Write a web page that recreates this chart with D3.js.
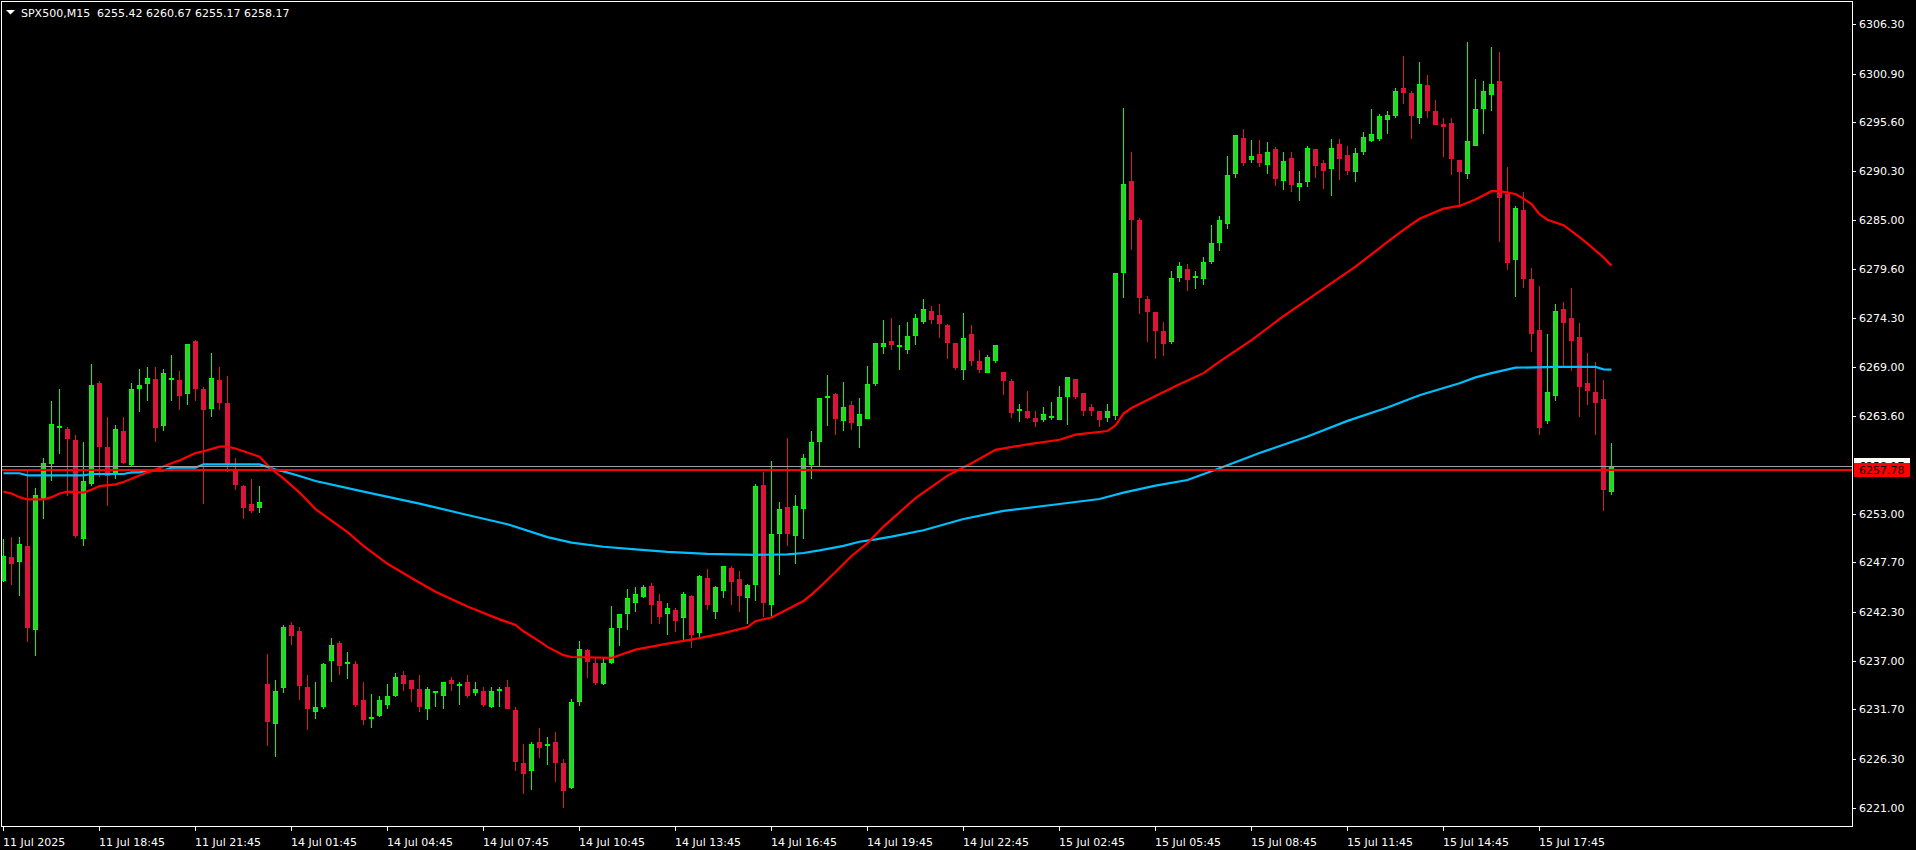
<!DOCTYPE html>
<html><head><meta charset="utf-8">
<script src="https://cdn.jsdelivr.net/npm/d3@7"></script>
<style>html,body{margin:0;padding:0;background:#000;overflow:hidden}text{font-family:"DejaVu Sans",sans-serif;font-size:11px}</style>
</head><body>
<svg id="chart" width="1916" height="850"></svg>
<script>
// ---------- data ----------
const titleText = "SPX500,M15  6255.42 6260.67 6255.17 6258.17";
const opens = [
6245.8,6248.3,6247.8,6249.5,6240.4,6254.6,6258.5,6262.4,6262.2,6261.0,
6250.4,6256.3,6267.2,6260.3,6257.5,6262.0,6258.4,6266.7,6267.2,6267.7,
6262.7,6267.7,6267.6,6266.1,6271.8,6266.6,6264.5,6267.6,6265.1,6257.8,
6256.0,6254.1,6253.7,6234.5,6230.2,6234.1,6240.9,6240.2,6234.1,6231.5,
6232.1,6237.1,6238.9,6236.8,6236.6,6232.7,6230.8,6231.1,6232.3,6233.3,
6235.4,6234.9,6233.9,6231.9,6233.6,6233.3,6234.9,6234.4,6234.7,6233.6,
6233.7,6232.1,6233.85,6234.1,6231.6,6225.9,6225.1,6228.2,6227.85,6228.2,
6225.9,6223.2,6232.6,6238.2,6236.8,6234.6,6236.9,6240.7,6242.2,6243.4,
6244.0,6245.1,6243.5,6242.2,6242.5,6241.8,6244.0,6240.1,6246.0,6242.4,
6244.7,6247.1,6245.9,6243.9,6245.4,6256.1,6243.2,6250.9,6253.7,6250.7,
6253.6,6258.4,6260.9,6265.7,6266.0,6263.2,6264.8,6262.7,6263.4,6267.2,
6271.25,6271.8,6271.3,6270.9,6272.45,6274.0,6275.1,6274.6,6273.5,6271.6,
6268.75,6272.6,6269.6,6268.4,6269.7,6268.4,6267.4,6264.3,6264.2,6263.4,
6263.3,6263.55,6263.3,6265.8,6267.7,6266.1,6264.6,6264.2,6263.5,6263.7,
6279.3,6289.2,6285.0,6276.4,6275.0,6272.9,6271.8,6278.8,6279.6,6278.8,
6278.6,6280.5,6282.6,6284.6,6290.1,6293.9,6291.6,6292.15,6291.1,6292.7,
6289.3,6291.7,6288.7,6289.2,6292.7,6291.2,6290.6,6293.2,6292.0,6290.3,
6292.5,6293.7,6293.9,6296.0,6296.4,6299.3,6298.8,6296.2,6299.7,6296.8,
6295.4,6295.5,6291.5,6290.1,6293.1,6297.2,6298.7,6300.1,6287.8,6280.7,
6286.05,6278.5,6273.0,6263.2,6265.9,6275.3,6274.3,6272.2,6267.2,6266.25,
6265.5,6255.42];
const highs = [
6250.3,6250.5,6250.5,6257.8,6255.8,6259.1,6265.3,6266.6,6262.4,6261.6,
6260.8,6269.3,6267.4,6263.5,6262.7,6263.5,6267.2,6268.8,6269.0,6269.0,
6268.8,6270.3,6268.5,6271.5,6271.9,6266.8,6270.5,6269.0,6268.0,6259.1,
6256.1,6256.8,6256.0,6237.7,6234.9,6240.9,6241.2,6240.7,6235.4,6234.7,
6236.7,6239.5,6239.1,6238.0,6237.0,6234.7,6233.4,6233.2,6234.5,6235.7,
6235.9,6234.9,6235.4,6234.1,6233.7,6234.7,6235.2,6234.7,6235.4,6234.7,
6234.1,6234.1,6234.1,6234.9,6232.0,6227.9,6228.2,6229.7,6228.7,6229.2,
6226.3,6232.8,6239.1,6238.3,6237.4,6237.4,6243.0,6242.1,6244.8,6245.0,
6245.2,6245.5,6244.3,6243.3,6242.7,6244.5,6244.1,6246.3,6247.0,6245.1,
6247.35,6247.3,6246.8,6245.3,6256.2,6257.5,6258.7,6254.3,6261.2,6255.0,
6259.5,6262.0,6265.6,6268.1,6266.1,6267.3,6265.3,6265.6,6269.1,6271.6,
6274.1,6274.3,6273.5,6273.9,6274.7,6276.4,6275.6,6275.8,6273.6,6271.6,
6274.8,6273.5,6270.8,6270.3,6271.4,6268.45,6267.7,6264.9,6266.35,6264.2,
6264.6,6265.2,6266.9,6267.9,6267.7,6266.15,6264.9,6264.2,6264.9,6279.25,
6297.2,6292.4,6285.2,6276.7,6275.0,6273.9,6279.4,6280.4,6280.2,6279.4,
6280.9,6284.4,6285.4,6291.9,6294.25,6294.9,6293.7,6293.7,6293.45,6292.9,
6292.4,6292.4,6290.3,6293.0,6292.7,6291.5,6293.8,6293.8,6293.0,6292.8,
6294.5,6297.05,6296.5,6296.8,6299.3,6302.8,6299.0,6302.2,6300.75,6298.0,
6296.1,6296.1,6291.5,6304.3,6300.3,6300.1,6303.8,6303.25,6290.7,6286.5,
6288.0,6279.7,6277.8,6272.6,6275.8,6276.0,6277.6,6273.8,6270.5,6269.5,
6267.55,6260.67];
const lows = [
6245.7,6245.4,6244.2,6239.1,6237.6,6252.5,6256.7,6259.6,6255.0,6250.5,
6249.6,6256.1,6257.1,6254.0,6256.9,6258.5,6258.3,6264.2,6265.4,6260.9,
6262.1,6265.4,6264.4,6264.9,6265.4,6254.2,6263.6,6264.4,6257.7,6255.7,
6252.5,6253.2,6253.2,6227.8,6226.6,6233.6,6238.8,6232.8,6229.6,6230.8,
6231.9,6234.8,6235.6,6235.1,6232.1,6230.1,6229.8,6231.0,6231.9,6233.2,
6233.8,6232.6,6231.5,6230.6,6232.1,6231.9,6233.8,6232.3,6233.1,6233.3,
6232.1,6232.0,6232.1,6231.8,6225.1,6222.6,6223.0,6226.5,6225.8,6223.9,
6221.1,6223.1,6232.2,6235.2,6234.5,6234.5,6236.8,6238.7,6240.5,6242.4,
6243.9,6241.1,6241.1,6239.9,6240.2,6239.4,6238.5,6239.6,6242.6,6241.7,
6243.9,6243.2,6242.4,6241.1,6243.6,6241.9,6241.9,6246.4,6249.6,6247.6,
6250.4,6256.9,6258.2,6262.7,6261.7,6262.1,6262.2,6260.3,6263.4,6267.0,
6270.5,6270.9,6268.75,6270.5,6271.5,6273.75,6273.75,6272.2,6269.95,6268.75,
6267.7,6269.2,6268.4,6268.4,6269.5,6266.0,6263.5,6263.1,6263.4,6262.5,
6263.1,6263.3,6263.3,6262.8,6265.6,6263.7,6263.7,6262.5,6263.1,6263.3,
6276.6,6281.8,6274.8,6271.8,6269.9,6270.3,6271.6,6278.3,6277.35,6277.6,
6278.0,6280.3,6281.7,6284.1,6289.6,6290.9,6291.3,6290.8,6290.1,6288.8,
6288.3,6288.1,6287.1,6288.7,6289.65,6288.45,6287.7,6289.4,6290.0,6289.2,
6292.15,6293.6,6293.7,6294.4,6296.2,6297.7,6293.9,6295.5,6296.2,6295.4,
6291.9,6290.0,6286.7,6289.5,6293.1,6294.4,6296.9,6282.7,6279.6,6276.7,
6277.7,6270.7,6261.7,6262.9,6265.4,6269.1,6268.6,6263.6,6264.9,6261.7,
6253.4,6255.17];
const closes = [
6248.4,6247.6,6249.7,6240.7,6255.0,6258.5,6262.8,6262.5,6261.2,6250.7,
6256.6,6267.0,6260.4,6257.2,6262.2,6258.6,6266.6,6267.0,6267.8,6262.4,
6268.3,6267.8,6265.9,6271.5,6266.7,6264.4,6267.8,6265.2,6258.4,6256.2,
6253.7,6253.4,6254.3,6230.4,6233.7,6240.7,6239.8,6234.4,6231.9,6232.0,
6236.6,6238.7,6236.5,6236.9,6232.3,6230.6,6230.9,6232.7,6233.2,6235.2,
6234.6,6234.0,6232.1,6233.9,6233.7,6234.7,6234.6,6234.5,6233.3,6233.9,
6232.3,6233.7,6233.9,6231.9,6226.1,6224.8,6227.9,6227.6,6227.9,6226.0,
6222.9,6232.5,6238.3,6237.0,6234.7,6236.8,6240.6,6242.1,6243.8,6244.3,
6245.0,6243.2,6241.9,6242.7,6241.4,6244.3,6239.9,6246.2,6243.2,6245.0,
6247.3,6245.7,6244.2,6245.2,6256.0,6243.4,6250.8,6253.5,6250.9,6253.8,
6259.1,6260.8,6265.6,6265.8,6263.4,6264.6,6263.0,6263.9,6267.1,6271.6,
6271.6,6271.5,6271.4,6272.3,6274.3,6275.3,6274.2,6273.75,6271.7,6269.0,
6272.1,6269.7,6268.75,6270.05,6271.4,6267.55,6264.1,6264.4,6263.5,6263.1,
6263.85,6263.6,6265.7,6267.9,6265.8,6264.3,6264.3,6263.3,6264.2,6279.2,
6288.9,6285.1,6276.6,6275.1,6273.0,6271.6,6278.7,6280.0,6278.55,6278.85,
6280.4,6282.5,6285.0,6289.9,6294.2,6291.3,6291.9,6291.3,6292.4,6289.5,
6291.4,6288.9,6289.0,6292.8,6290.95,6290.4,6292.8,6291.7,6290.4,6292.3,
6294.0,6294.3,6296.3,6296.4,6299.0,6298.9,6296.4,6299.8,6296.9,6295.4,
6295.2,6291.7,6290.3,6293.6,6297.05,6299.0,6299.8,6287.5,6280.4,6286.3,
6278.65,6272.7,6262.4,6266.25,6275.1,6273.9,6271.9,6266.9,6266.5,6265.2,
6255.7,6258.17];

// moving averages, sampled as [bar index, value]
const redMA = [[0,6255.4],[1,6255.2],[2,6254.8],[3,6254.55],[5,6254.55],[6,6254.8],[7,6255.2],[8,6255.4],[10,6255.3],[11,6255.6],[12,6256.0],[14,6256.2],[15,6256.45],[16,6256.8],[18,6257.5],[19,6257.8],[21,6258.5],[22,6258.8],[24,6259.6],[25,6259.8],[27,6260.3],[28,6260.3],[29,6260.1],[31,6259.5],[32,6259.2],[33,6258.3],[34,6257.5],[35,6256.85],[37,6255.3],[39,6253.5],[43,6251.0],[45,6249.5],[48,6247.55],[51,6246.0],[54,6244.5],[58,6242.9],[62,6241.5],[64,6240.9],[65,6240.2],[67,6239.1],[68,6238.5],[70,6237.6],[71,6237.4],[76,6237.3],[79,6238.2],[83,6238.85],[87,6239.45],[90,6240.0],[93,6240.65],[94,6241.3],[96,6241.7],[98,6242.6],[100,6243.5],[101,6244.2],[102,6245.0],[104,6246.65],[106,6248.4],[108,6249.8],[110,6251.6],[114,6254.7],[118,6257.15],[121,6258.5],[124,6259.95],[128,6260.55],[132,6261.05],[134,6261.6],[138,6262.0],[139,6262.6],[140,6263.9],[141,6264.5],[142,6264.95],[144,6265.8],[147,6267.1],[150,6268.3],[152,6269.55],[156,6271.9],[160,6274.5],[165,6277.5],[169,6279.9],[172,6281.9],[173,6282.6],[175,6283.9],[177,6285.1],[180,6286.2],[182,6286.5],[184,6287.2],[186,6288.1],[187,6288.1],[189,6287.8],[190,6287.3],[191,6286.7],[192,6285.6],[193,6285.0],[195,6284.4],[197,6283.1],[198,6282.4],[200,6280.9],[201,6280.0]];
const blueMA = [[0,6257.4],[2,6257.4],[3,6257.17],[10,6257.17],[11,6257.32],[15,6257.32],[16,6257.5],[17,6257.5],[18,6257.7],[20,6257.7],[21,6258.0],[24,6258.0],[25,6258.37],[32,6258.37],[33,6258.1],[34,6257.8],[35,6257.6],[37,6257.1],[39,6256.56],[45,6255.4],[52,6254.1],[58,6252.86],[63,6251.85],[68,6250.45],[71,6249.85],[75,6249.4],[79,6249.12],[83,6248.85],[88,6248.62],[94,6248.52],[98,6248.58],[100,6248.72],[102,6249.0],[105,6249.5],[107,6249.95],[109,6250.2],[111,6250.5],[115,6251.2],[120,6252.42],[125,6253.3],[131,6253.95],[137,6254.6],[140,6255.3],[144,6256.05],[148,6256.67],[152,6257.94],[157,6259.6],[163,6261.4],[168,6263.1],[173,6264.55],[177,6265.9],[182,6267.2],[184,6267.84],[186,6268.3],[189,6268.89],[194,6268.97],[199,6268.97],[200,6268.71],[201,6268.68]];

const priceTicks = ["6306.30","6300.90","6295.60","6290.30","6285.00","6279.60","6274.30","6269.00","6263.60","6253.00","6247.70","6242.30","6237.00","6231.70","6226.30","6221.00"];
const timeTickBars = [0,12,24,36,48,60,72,84,96,108,120,132,144,156,168,180,192];
const timeTickLabels = ["11 Jul 2025","11 Jul 18:45","11 Jul 21:45","14 Jul 01:45","14 Jul 04:45","14 Jul 07:45","14 Jul 10:45","14 Jul 13:45","14 Jul 16:45","14 Jul 19:45","14 Jul 22:45","15 Jul 02:45","15 Jul 05:45","15 Jul 08:45","15 Jul 11:45","15 Jul 14:45","15 Jul 17:45"];
const askPrice = 6258.17, bidPrice = 6257.78;

// ---------- drawing ----------
const svg = d3.select("#chart");
const L = 2, R = 1852, T = 2, B = 826;
const x = d3.scaleLinear().domain([0, 201]).range([3.5, 1611.5]);
const y = d3.scaleLinear().domain([6221.0, 6306.3]).range([807.7, 24]);

svg.append("rect").attr("width",1916).attr("height",850).attr("fill","#000");
svg.append("defs").append("clipPath").attr("id","clip")
  .append("rect").attr("x",L).attr("y",T).attr("width",R-L).attr("height",B-T);
const plot = svg.append("g").attr("clip-path","url(#clip)").attr("shape-rendering","crispEdges");

const bars = d3.range(opens.length).map(i => ({i, o:opens[i], h:highs[i], l:lows[i], c:closes[i]}));
const g = plot.selectAll("g.bar").data(bars).join("g").attr("class","bar");
g.each(function(d){
  const sel = d3.select(this);
  const cx = Math.floor(x(d.i));
  const bull = d.c >= d.o;
  const yh = Math.round(y(d.h)), yl = Math.round(y(d.l));
  sel.append("rect").attr("x",cx).attr("y",yh).attr("width",1).attr("height",Math.max(1,yl-yh+1))
    .attr("fill", bull ? "#00ff00" : "#dc143c");
  const top = Math.round(y(Math.max(d.o,d.c))), bot = Math.round(y(Math.min(d.o,d.c)));
  const hgt = Math.max(1, bot-top+1);
  sel.append("rect").attr("x",cx-2).attr("y",top).attr("width",5).attr("height",hgt)
    .attr("fill", bull ? "#00ff00" : "#dc143c");
  if (bull && hgt > 2) {
    sel.append("rect").attr("x",cx-1).attr("y",top+1).attr("width",3).attr("height",hgt-2).attr("fill","#32cd32");
  }
});

const line = d3.line().x(d => x(d[0])).y(d => y(d[1]));
const maG = svg.append("g").attr("clip-path","url(#clip)");
maG.append("path").datum(blueMA).attr("d",line).attr("fill","none").attr("stroke","#00bfff").attr("stroke-width",2.2);
maG.append("path").datum(redMA).attr("d",line).attr("fill","none").attr("stroke","#ff0000").attr("stroke-width",2.2);

// price lines
const ya = Math.round(y(askPrice)) + 0.5, yb = Math.round(y(bidPrice));
svg.append("line").attr("x1",L).attr("x2",R).attr("y1",ya).attr("y2",ya).attr("stroke","#a0a0a0").attr("stroke-width",1);
svg.append("line").attr("x1",L).attr("x2",R).attr("y1",yb).attr("y2",yb).attr("stroke","#ff0000").attr("stroke-width",2);

// frame
svg.append("rect").attr("x",L-0.5).attr("y",T-0.5).attr("width",R-L+1).attr("height",B-T+1)
  .attr("fill","none").attr("stroke","#fff").attr("stroke-width",1).attr("shape-rendering","crispEdges");

// price axis
const ax = svg.append("g");
priceTicks.forEach(t => {
  const yy = Math.round(y(+t)) + 0.5;
  ax.append("line").attr("x1",R+1).attr("x2",R+4).attr("y1",yy).attr("y2",yy).attr("stroke","#fff").attr("shape-rendering","crispEdges");
  ax.append("text").attr("x",1859).attr("y",yy).attr("dy","0.36em").attr("fill","#fff").text(t);
});
// time axis
timeTickBars.forEach((b,k) => {
  const xx = Math.floor(x(b)) + 0.5;
  ax.append("line").attr("x1",xx).attr("x2",xx).attr("y1",B+1).attr("y2",B+5).attr("stroke","#fff").attr("shape-rendering","crispEdges");
  ax.append("text").attr("x",xx-0.5).attr("y",846).attr("fill","#fff").text(timeTickLabels[k]);
});

// price labels
const lblA = Math.round(y(askPrice)), lblB = Math.round(y(bidPrice));
ax.append("rect").attr("x",1854).attr("y",lblA-8).attr("width",56).attr("height",14).attr("fill","#fff");
ax.append("text").attr("x",1859).attr("y",lblA).attr("dy","0.36em").attr("fill","#000").text(askPrice.toFixed(2));
ax.append("rect").attr("x",1854).attr("y",lblB-7).attr("width",56).attr("height",14).attr("fill","#ff0000");
ax.append("text").attr("x",1859).attr("y",lblB).attr("dy","0.36em").attr("fill","#000").text(bidPrice.toFixed(2));

// title
svg.append("path").attr("d","M6,10 L15,10 L10.5,14.5 Z").attr("fill","#fff");
svg.append("text").attr("x",21).attr("y",17).attr("fill","#fff").attr("xml:space","preserve").style("white-space","pre").text(titleText);
</script>
</body></html>
